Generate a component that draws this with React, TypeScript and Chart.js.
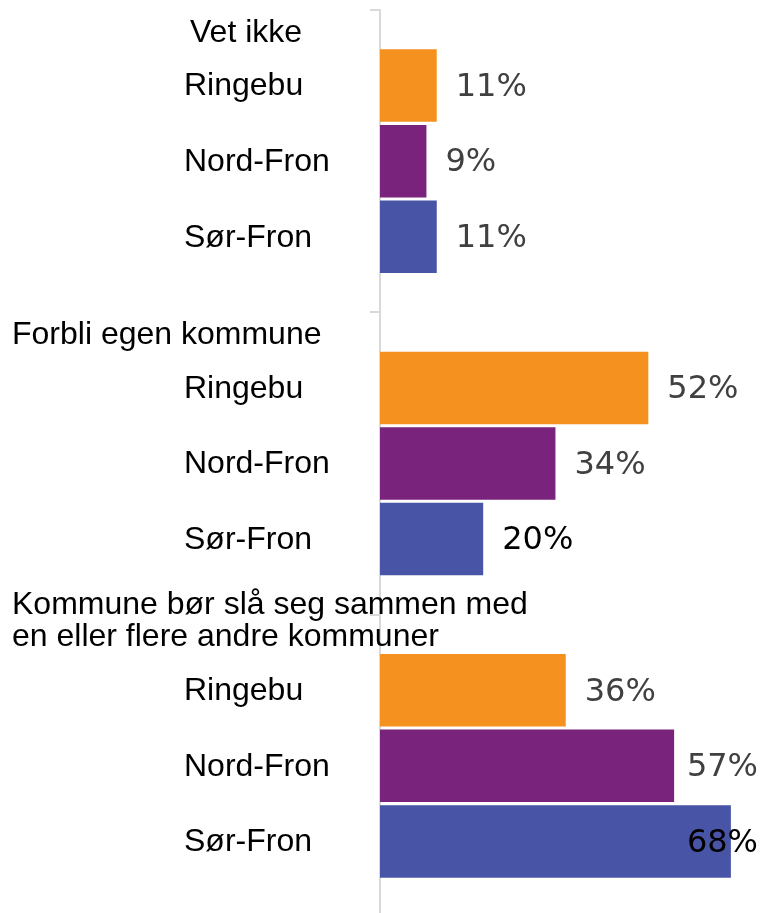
import React, { useEffect, useRef } from "react";
import { Chart, registerables } from "chart.js";

Chart.register(...registerables);

const groupLabels: string[][] = [
  ["Vet ikke"],
  ["Forbli egen kommune"],
  ["Kommune bør slå seg sammen med", "en eller flere andre kommuner"],
];
const seriesNames = ["Ringebu", "Nord-Fron", "Sør-Fron"];
const ringebu = [11, 52, 36];
const nordFron = [9, 34, 57];
const sorFron = [11, 20, 68];
const seriesColors = ["#F5921F", "#7A237C", "#4854A5"];
const valueLabelColors = [
  ["#404040", "#404040", "#404040"],
  ["#404040", "#404040", "#404040"],
  ["#404040", "#000000", "#000000"],
];
const HEADER_X = [190, 12, 12];
const SERIES_LABEL_X = 184;
const X_MAX = 75;

const labelsPlugin = {
  id: "customLabels",
  afterDatasetsDraw(chart: any) {
    const ctx = chart.ctx;
    const area = chart.chartArea;
    const yScale = chart.scales.y;
    ctx.save();
    ctx.fillStyle = "#000000";
    ctx.font = '32px "Liberation Sans", Arial, sans-serif';
    ctx.textBaseline = "middle";
    ctx.textAlign = "left";
    const n = groupLabels.length;
    const catH = (yScale.bottom - yScale.top) / n;
    groupLabels.forEach((lines, gi) => {
      const top = yScale.top + gi * catH;
      const lastY = top + 23;
      lines.forEach((line, li) => {
        const y = lastY - (lines.length - 1 - li) * 32;
        ctx.fillText(line, HEADER_X[gi], y);
      });
    });
    chart.data.datasets.forEach((ds: any, di: number) => {
      const meta = chart.getDatasetMeta(di);
      meta.data.forEach((bar: any, j: number) => {
        ctx.fillStyle = "#000000";
        ctx.font = '32px "Liberation Sans", Arial, sans-serif';
        ctx.textAlign = "left";
        ctx.fillText(seriesNames[di], SERIES_LABEL_X, bar.y + 1);
        const txt = ds.data[j] + "%";
        ctx.font = '32px "DejaVu Sans", sans-serif';
        const w = ctx.measureText(txt).width;
        let x = bar.x + 19;
        if (x + w > area.right - 8) x = area.right - 9 - w;
        ctx.fillStyle = valueLabelColors[di][j];
        ctx.fillText(txt, x, bar.y + 2);
      });
    });
    ctx.restore();
  },
};

export default function App() {
  const ref = useRef<HTMLCanvasElement | null>(null);
  useEffect(() => {
    if (!ref.current) return;
    const chart = new Chart(ref.current, {
      type: "bar",
      data: {
        labels: groupLabels.map((l) => l.join(" ")),
        datasets: [ringebu, nordFron, sorFron].map((d, i) => ({
          label: seriesNames[i],
          data: d,
          backgroundColor: seriesColors[i],
          borderWidth: 0,
          categoryPercentage: 0.75,
          barPercentage: 0.96,
        })),
      },
      options: {
        indexAxis: "y",
        animation: false,
        responsive: true,
        maintainAspectRatio: false,
        layout: { padding: { left: 368, top: 10, bottom: 1, right: 0 } },
        plugins: {
          legend: { display: false },
          tooltip: { enabled: false },
          title: { display: false },
        },
        scales: {
          x: { display: false, min: 0, max: X_MAX },
          y: {
            type: "category",
            position: "left",
            grid: {
              display: true,
              drawOnChartArea: false,
              drawTicks: true,
              tickLength: 10,
              color: "#d9d9d9",
              lineWidth: 2,
              offset: true,
            },
            border: { display: true, color: "#d9d9d9", width: 2 },
            ticks: { display: false },
            afterFit: (s: any) => {
              s.width = 12;
            },
          },
        },
      } as any,
      plugins: [labelsPlugin],
    });
    return () => chart.destroy();
  }, []);
  return (
    <div
      style={{
        position: "fixed",
        left: 0,
        top: 0,
        width: 767,
        height: 913,
        overflow: "hidden",
        background: "#ffffff",
      }}
    >
      <div style={{ position: "relative", width: 767, height: 918 }}>
        <canvas ref={ref} />
      </div>
    </div>
  );
}
